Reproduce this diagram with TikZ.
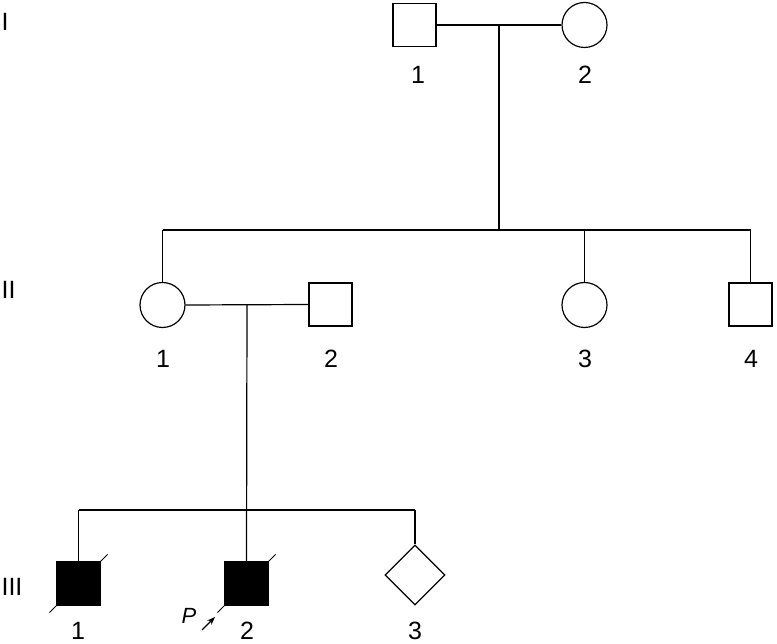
\documentclass[tikz,border=0pt]{standalone}
\usepackage{fontspec}
\setmainfont{Liberation Sans}
\usetikzlibrary{shapes.geometric,arrows.meta}
\begin{document}
\begin{tikzpicture}[x=1pt,y=-1pt,line width=1.2pt,
  male/.style={draw,rectangle,minimum size=43pt,inner sep=0pt},
  female/.style={draw,circle,minimum size=45pt,inner sep=0pt},
  unknown/.style={draw,diamond,minimum width=60pt,minimum height=60pt,inner sep=0pt},
  affected/.style={fill=black},
  lbl/.style={font=\fontsize{25}{30}\selectfont,inner sep=0pt},
  gen/.style={font=\fontsize{25}{30}\selectfont,inner sep=0pt,anchor=west}]
\useasboundingbox (0,0) rectangle (777,644);
% generation labels
\node[gen] (gI) at (1,22) {I};
\node[gen] (gII) at (1,289.5) {II};
\node[gen] (gIII) at (1,586.5) {III};
% generation I
\node[male] (I1) at (414.5,25) {};
\node[female] (I2) at (584.5,25) {};
\node[lbl] (lI1) at (418,74.5) {1};
\node[lbl] (lI2) at (585,74.5) {2};
\coordinate (mI) at (499,25);
\coordinate (sI) at (499,230);
% generation II
\node[female] (II1) at (162.5,305) {};
\node[male] (II2) at (330.5,304.5) {};
\node[female] (II3) at (584.5,305) {};
\node[male] (II4) at (750.5,304.5) {};
\node[lbl] (lII1) at (163,359) {1};
\node[lbl] (lII2) at (331,359) {2};
\node[lbl] (lII3) at (585,359) {3};
\node[lbl] (lII4) at (751,359) {4};
\coordinate (sII1) at (162.5,230);
\coordinate (sII3) at (584.5,230);
\coordinate (sII4) at (750.5,230);
\coordinate (mII) at (247,305);
\coordinate (sII) at (247,510);
% generation III
\node[male,affected] (III1) at (78.5,583.5) {};
\node[male,affected] (III2) at (246.5,583.5) {};
\node[unknown] (III3) at (415,575) {};
\node[lbl] (lIII1) at (78,631) {1};
\node[lbl] (lIII2) at (247,631) {2};
\node[lbl] (lIII3) at (415,631) {3};
\coordinate (sIII1) at (78.5,510);
\coordinate (sIII3) at (415,510);
% connectors
\draw (I1.east) -- (I2.west);
\draw (mI) -- (sI);
\draw (sII1) -- (sII4);
\draw (sII1) -- (II1.north);
\draw (sII3) -- (II3.north);
\draw (sII4) -- (II4.north);
\draw (II1.east) -- (II2.west);
\draw (mII) -- (III2.north);
\draw (sIII1) -- (sIII3);
\draw (sIII1) -- (III1.north);
\draw (sIII3) -- (III3.north);
% deceased slashes
\draw[line width=1pt] ([shift={(-7,7)}]III1.south west) -- ([shift={(7,-7)}]III1.north east);
\draw[line width=1pt] ([shift={(-7,7)}]III2.south west) -- ([shift={(7,-7)}]III2.north east);
% proband
\node[lbl,font=\fontsize{22}{26}\selectfont\itshape] (P) at (189,616) {P};
\coordinate (pa) at (202,630);
\coordinate (pb) at (215,617);
\draw[line width=1.1pt,-{Stealth[length=8pt,width=6pt,inset=2.5pt]}] (pa) -- (pb);
\end{tikzpicture}
\end{document}
